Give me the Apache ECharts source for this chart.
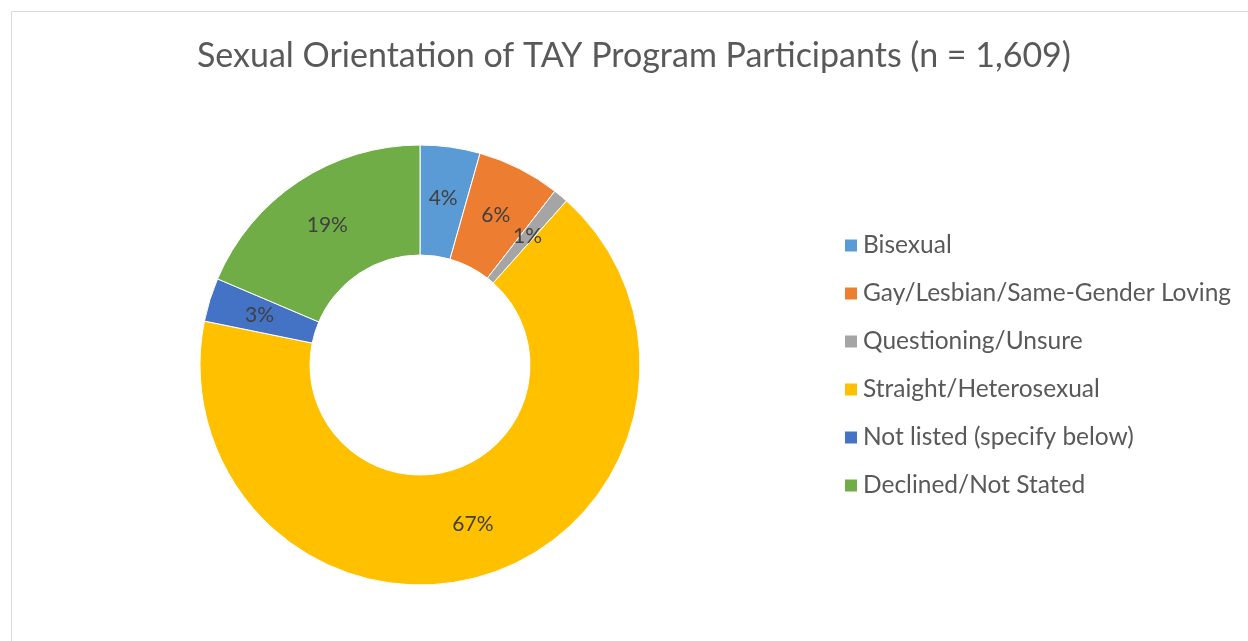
<!doctype html>
<html>
<head>
<meta charset="utf-8">
<title>Sexual Orientation</title>
<script type="text/javascript" src="https://cdn.jsdelivr.net/npm/echarts@6/dist/echarts.min.js"></script>
</head>
<body style="margin:0;padding:0;background:#fff">
<div id="tb" style="width:1248px;height:641px;"></div>
<script>
// data (percent of n = 1,609)
var categories = ['Bisexual', 'Gay/Lesbian/Same-Gender Loving', 'Questioning/Unsure',
    'Straight/Heterosexual', 'Not listed (specify below)', 'Declined/Not Stated'];
var shares = [4.4, 6.1, 1.1, 66.6, 3.2, 18.6];
var colors = ['#5B9BD5', '#ED7D31', '#A5A5A5', '#FFC000', '#4472C4', '#70AD47'];

var font = 'Lato, "Open Sans", sans-serif';
var chart = echarts.init(document.getElementById('tb'));

var pieData = [];
for (var i = 0; i < categories.length; i++) {
    pieData.push({ name: categories[i], value: shares[i] });
}

chart.setOption({
    animation: false,
    color: colors,
    title: {
        text: 'Sexual Orientation of TAY Program Participants (n = 1,609)',
        left: 192,
        top: 34,
        textStyle: { fontFamily: font, fontSize: 34, fontWeight: 'normal', color: '#595959' }
    },
    graphic: [{
        type: 'rect',
        shape: { x: 11.5, y: 11.5, width: 1300, height: 700 },
        style: { fill: 'none', stroke: '#d9d9d9', lineWidth: 1 },
        silent: true
    }],
    legend: {
        orient: 'vertical',
        left: 838,
        top: 228,
        itemWidth: 14,
        itemHeight: 14,
        itemGap: 23,
        icon: 'rect',
        textStyle: { fontFamily: font, fontSize: 24.5, color: '#595959' },
        data: categories
    },
    series: [{
        type: 'pie',
        center: [420, 365],
        radius: [110, 220],
        startAngle: 90,
        clockwise: true,
        avoidLabelOverlap: false,
        itemStyle: { borderColor: '#fff', borderWidth: 1 },
        label: {
            show: true,
            position: 'inside',
            fontFamily: font,
            fontSize: 21,
            color: '#404040',
            formatter: function (p) { return Math.round(p.value) + '%'; }
        },
        labelLine: { show: false },
        data: pieData
    }]
});
</script>
</body>
</html>
